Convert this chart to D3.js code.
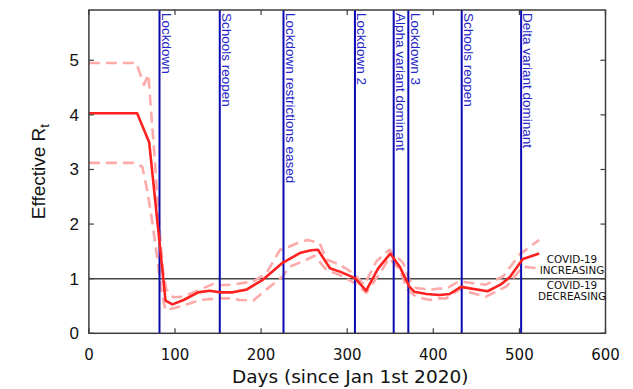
<!DOCTYPE html>
<html>
<head>
<meta charset="utf-8">
<script src="https://cdn.jsdelivr.net/npm/d3@7"></script>
<style>
  html, body { margin: 0; padding: 0; background: #fff; }
  svg { display: block; }
</style>
</head>
<body>
<svg id="chart" width="633" height="389"></svg>
<script>
// ---- data ----
const meanRt = [[0,4.03],[56,4.03],[70,3.50],[89,0.60],[97,0.53],[110,0.61],[127,0.75],[140,0.78],[152,0.75],[167,0.75],[183,0.80],[202,0.98],[225,1.29],[245,1.47],[258,1.52],[266,1.53],[280,1.19],[293,1.12],[309,1.01],[322,0.78],[336,1.19],[350,1.46],[361,1.22],[372,0.86],[378,0.76],[392,0.72],[407,0.70],[419,0.72],[432,0.85],[463,0.77],[478,0.89],[489,1.03],[504,1.36],[523,1.46]];
const upperRt = [[0,4.95],[55,4.95],[64,4.55],[69,4.74],[76,3.3],[82,1.9],[86,1.15],[90,0.80],[98,0.66],[109,0.67],[120,0.74],[129,0.80],[144,0.90],[152,0.88],[167,0.89],[191,0.95],[206,1.10],[222,1.53],[233,1.59],[245,1.67],[254,1.71],[268,1.65],[276,1.35],[291,1.26],[307,1.10],[320,0.89],[334,1.32],[349,1.53],[365,1.29],[372,0.98],[380,0.83],[396,0.80],[407,0.82],[415,0.82],[430,0.95],[461,0.89],[481,1.04],[500,1.44],[523,1.71]];
const lowerRt = [[0,3.12],[53,3.12],[62,3.05],[68,2.6],[74,2.0],[80,1.3],[84,0.8],[89,0.42],[106,0.49],[129,0.61],[152,0.64],[167,0.64],[175,0.61],[191,0.60],[206,0.80],[225,1.04],[233,1.22],[249,1.32],[262,1.42],[276,1.16],[291,1.07],[309,0.92],[322,0.74],[338,1.10],[349,1.38],[361,1.16],[370,0.80],[380,0.67],[396,0.61],[407,0.64],[415,0.64],[430,0.80],[461,0.67],[485,0.86],[504,1.22],[523,1.19]];
const eventDays = [82, 152, 226, 309, 354, 371, 433, 502];
const eventLabels = ["Lockdown", "Schools reopen", "Lockdown restrictions eased", "Lockdown 2", "Alpha variant dominant", "Lockdown 3", "Schools reopen", "Delta variant dominant"];
const xTicks = [0, 100, 200, 300, 400, 500, 600];
const yTicks = [0, 1, 2, 3, 4, 5];
const threshold = 1;

// ---- layout ----
const svg = d3.select("#chart");
const L = 88.9, R = 605.5, T = 10, B = 333.3;
const x = d3.scaleLinear().domain([0, 600]).range([L, R]);
const y = d3.scaleLinear().domain([0, 5.92]).range([B, T]);
const frameColor = "#3c3c3c";

// clip
svg.append("clipPath").attr("id", "clip").append("rect")
  .attr("x", L).attr("y", T).attr("width", R - L).attr("height", B - T);

const plot = svg.append("g").attr("clip-path", "url(#clip)");

// threshold line
plot.append("line")
  .attr("x1", x(0)).attr("x2", x(600))
  .attr("y1", y(threshold)).attr("y2", y(threshold))
  .attr("stroke", "#444").attr("stroke-width", 1.4);

const line = d3.line().x(d => x(d[0])).y(d => y(d[1]));

// bounds
[upperRt, lowerRt].forEach(s => {
  plot.append("path").datum(s).attr("d", line)
    .attr("fill", "none").attr("stroke", "#ffaaaa")
    .attr("stroke-width", 2.6).attr("stroke-dasharray", "11,6")
    .attr("stroke-linejoin", "round");
});

// event lines
plot.selectAll("line.ev").data(eventDays).enter().append("line")
  .attr("class", "ev")
  .attr("x1", d => x(d)).attr("x2", d => x(d))
  .attr("y1", y(5.92)).attr("y2", y(0))
  .attr("stroke", "#0a0ab4").attr("stroke-width", 2);

// mean
plot.append("path").datum(meanRt).attr("d", line)
  .attr("fill", "none").attr("stroke", "#ff2020")
  .attr("stroke-width", 2.6).attr("stroke-linejoin", "round");

// event labels
svg.selectAll("text.ev").data(eventDays).enter().append("text")
  .attr("class", "ev")
  .attr("transform", (d) => `translate(${x(d) + 2.2},${T + 3}) rotate(90)`)
  .attr("font-family", "Liberation Sans, Arial, sans-serif")
  .attr("font-size", 13.5)
  .attr("fill", "#2424c8")
  .text((d, i) => eventLabels[i]);

// frame
svg.append("rect").attr("x", L).attr("y", T).attr("width", R - L).attr("height", B - T)
  .attr("fill", "none").attr("stroke", frameColor).attr("stroke-width", 1.5);

// ticks (inward, mirrored)
const tk = 5;
const tg = svg.append("g").attr("stroke", frameColor).attr("stroke-width", 1.2);
xTicks.forEach(t => {
  tg.append("line").attr("x1", x(t)).attr("x2", x(t)).attr("y1", B).attr("y2", B - tk);
  tg.append("line").attr("x1", x(t)).attr("x2", x(t)).attr("y1", T).attr("y2", T + tk);
});
yTicks.forEach(t => {
  tg.append("line").attr("x1", L).attr("x2", L + tk).attr("y1", y(t)).attr("y2", y(t));
  tg.append("line").attr("x1", R).attr("x2", R - tk).attr("y1", y(t)).attr("y2", y(t));
});

// tick labels
svg.selectAll("text.xt").data(xTicks).enter().append("text")
  .attr("x", d => x(d)).attr("y", 360)
  .attr("text-anchor", "middle")
  .attr("font-family", "DejaVu Sans, Verdana, sans-serif")
  .attr("font-size", 15).attr("fill", "#111")
  .text(d => d);
svg.selectAll("text.yt").data(yTicks).enter().append("text")
  .attr("x", 79).attr("y", d => y(d) + 6)
  .attr("text-anchor", "end")
  .attr("font-family", "Liberation Sans, Arial, sans-serif")
  .attr("font-size", 17).attr("fill", "#111")
  .text(d => d);

// axis titles
svg.append("text")
  .attr("x", (L + R) / 2 + 3).attr("y", 383)
  .attr("text-anchor", "middle")
  .attr("font-family", "DejaVu Sans, Verdana, sans-serif")
  .attr("font-size", 18.5).attr("fill", "#111")
  .text("Days (since Jan 1st 2020)");

const yl = svg.append("text")
  .attr("transform", `translate(45,${(T + B) / 2}) rotate(-90)`)
  .attr("text-anchor", "middle")
  .attr("font-family", "Liberation Sans, Arial, sans-serif")
  .attr("font-size", 19).attr("fill", "#111");
yl.append("tspan").text("Effective R");
yl.append("tspan").attr("font-size", 13).attr("dy", 4).text("t");

// annotations
const ann = [["COVID-19", y(threshold) - 16], ["INCREASING", y(threshold) - 5],
             ["COVID-19", y(threshold) + 10.5], ["DECREASING", y(threshold) + 21.7]];
ann.forEach(a => {
  svg.append("text").attr("x", 572).attr("y", a[1])
    .attr("text-anchor", "middle")
    .attr("font-family", "DejaVu Sans, Verdana, sans-serif")
    .attr("font-size", 10.4).attr("fill", "#111")
    .text(a[0]);
});
</script>
</body>
</html>
